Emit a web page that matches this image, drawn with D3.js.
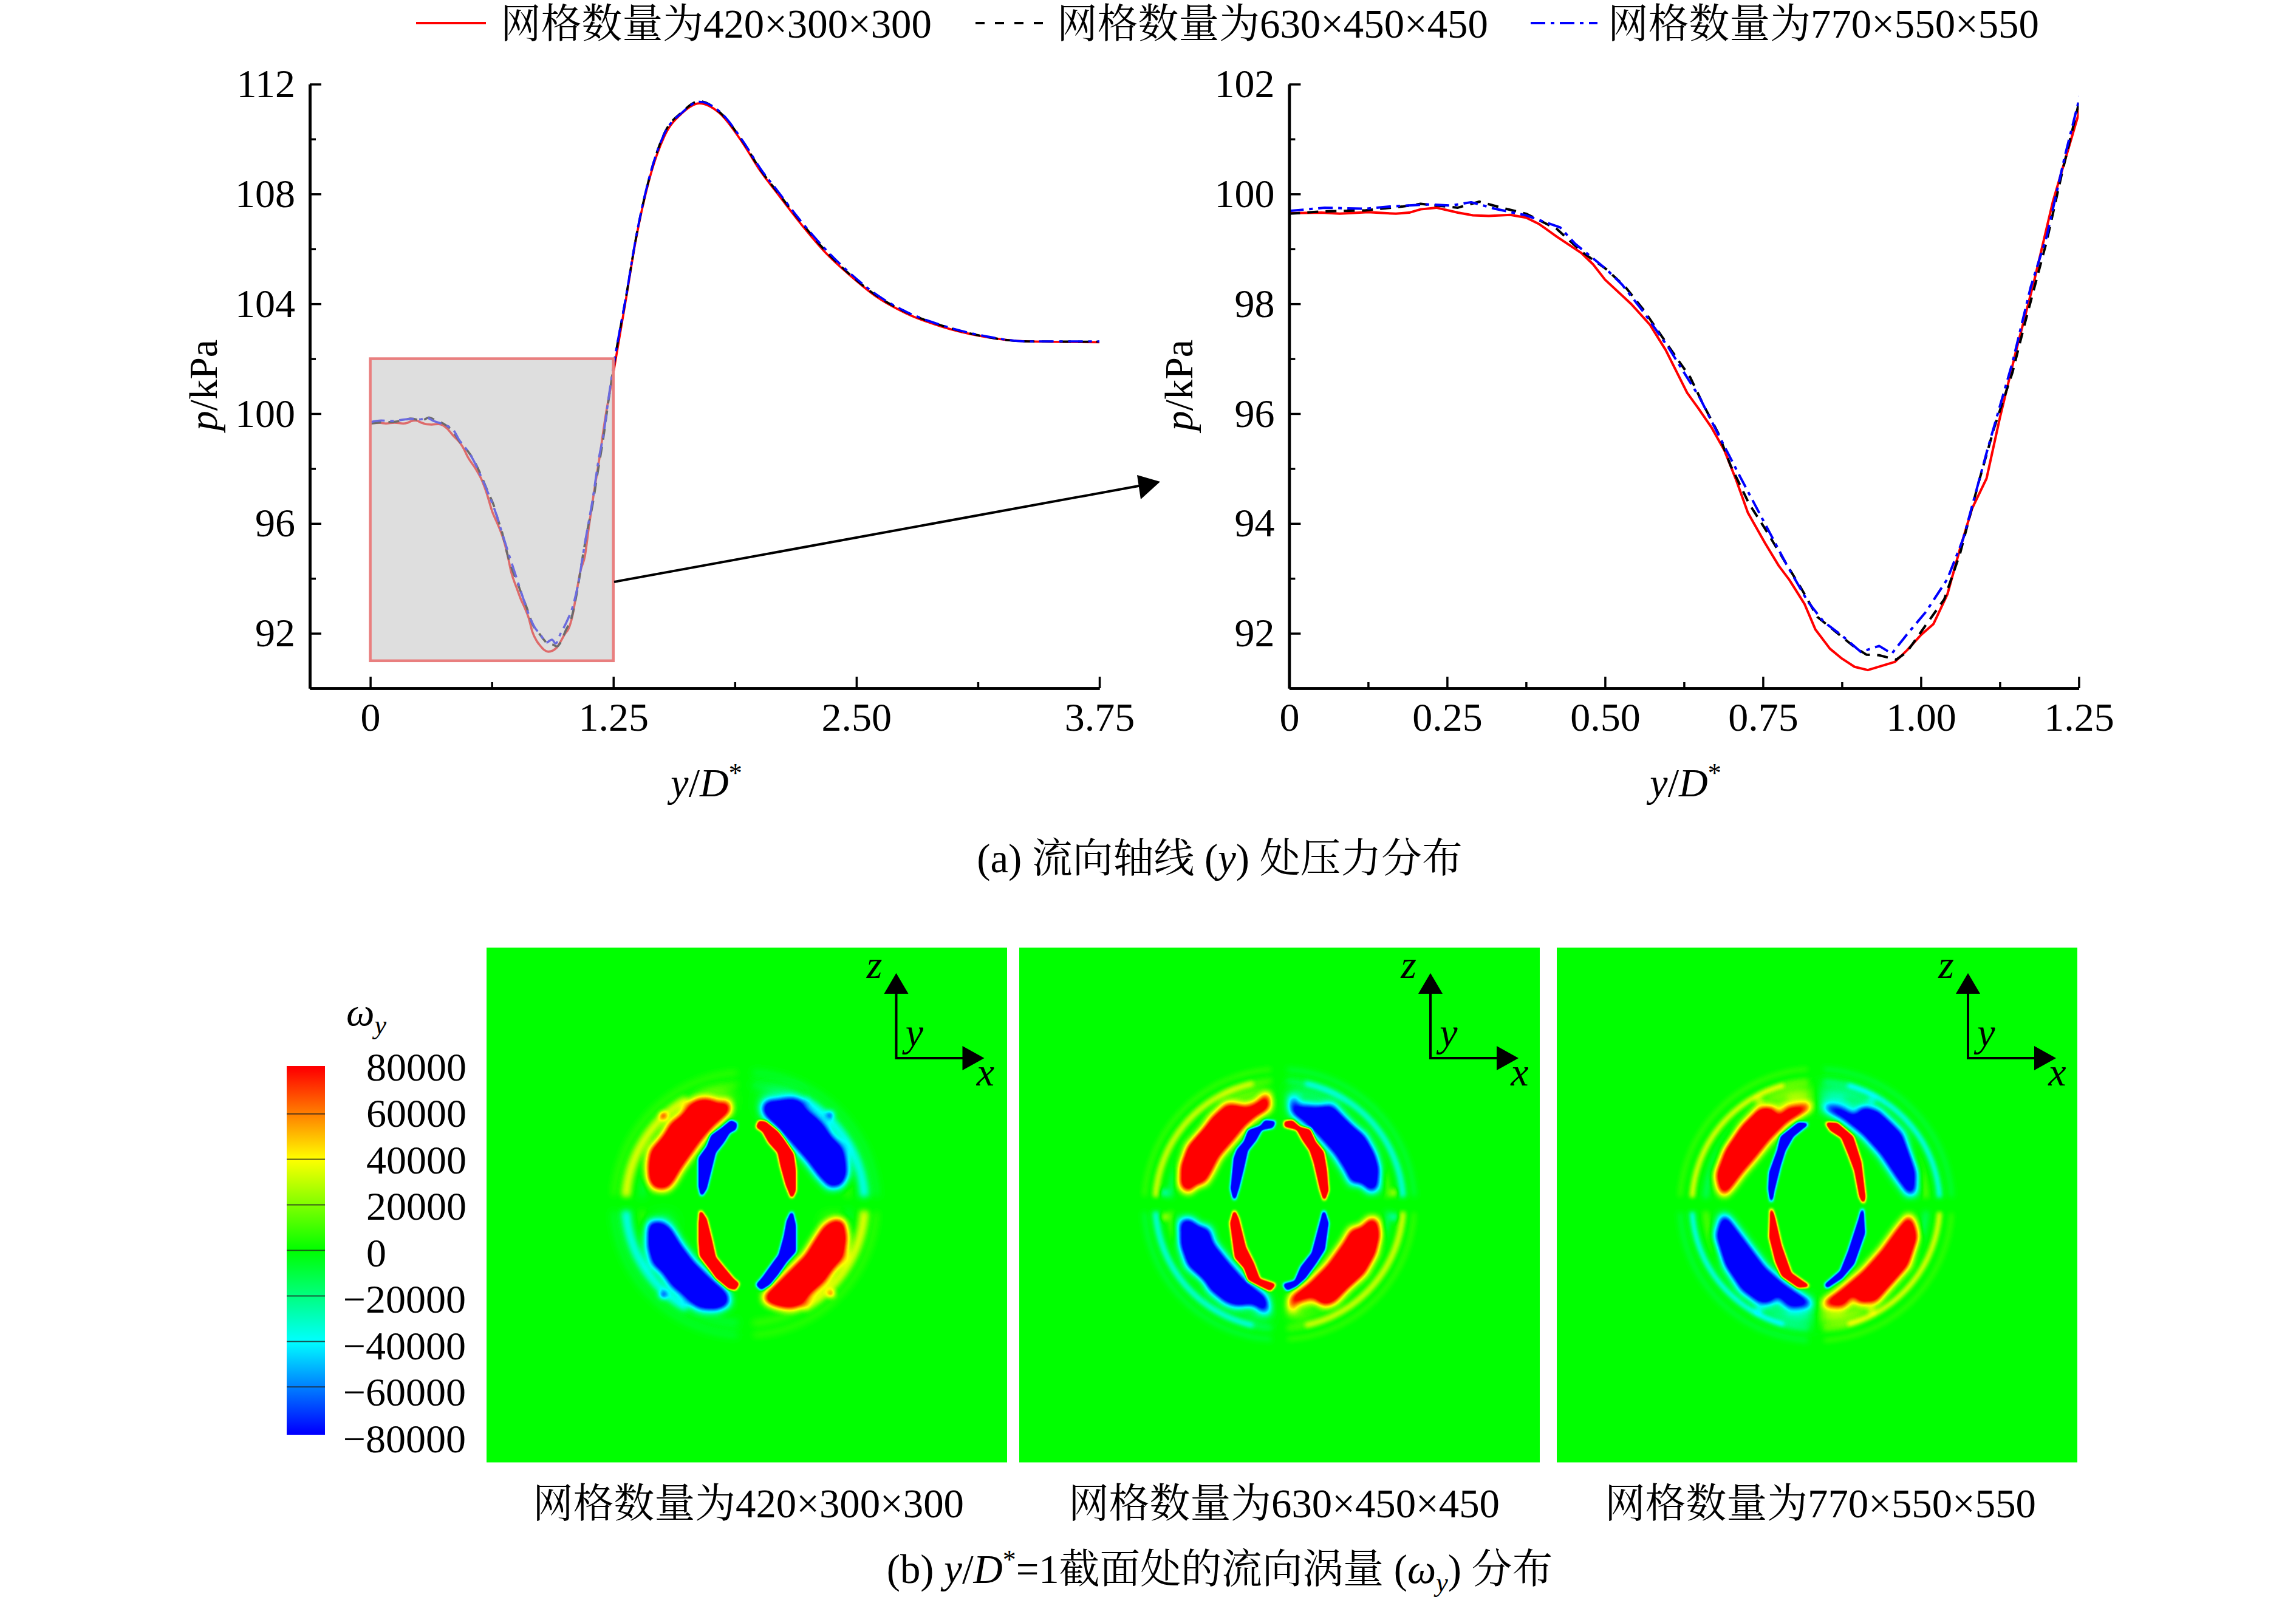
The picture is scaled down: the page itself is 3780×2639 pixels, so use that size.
<!DOCTYPE html>
<html><head><meta charset="utf-8">
<script src="https://cdn.jsdelivr.net/npm/d3@7"></script>
<style>
html,body{margin:0;padding:0;background:#fff}
text{font-family:"Liberation Serif","Noto Serif CJK SC","Noto Sans CJK SC",serif;font-size:66px;fill:#000}
text.cap{font-size:66.8px}
</style></head><body><svg id="c" width="3780" height="2639" xmlns="http://www.w3.org/2000/svg"></svg>
<script>
// ---------- pressure data ----------
const seriesNames=["网格数量为420×300×300","网格数量为630×450×450","网格数量为770×550×550"];
const tailX=[1.319,1.364,1.429,1.513,1.603,1.693,1.797,1.917,2.007,2.096,2.216,2.350,2.470,2.605,2.754,2.934,3.143,3.382,3.75];
const redX=[0,.051,.080,.125,.169,.190,.208,.233,.267,.291,.316,.350,.375,.396,.424,.463,.481,.500,.542,.571,.596,.630,.650,.669,.689,.708,.726,.753,.775,.792,.816,.833,.856,.875,.895,.916,.959,.978,1.001,1.020,1.042,1.062,1.081,1.104,1.125,1.150,1.179,1.209,1.25];
const redY=[99.65,99.66,99.64,99.67,99.64,99.66,99.72,99.75,99.66,99.61,99.60,99.62,99.57,99.45,99.22,98.92,98.72,98.44,97.99,97.62,97.16,96.38,96.06,95.74,95.33,94.78,94.20,93.65,93.23,92.97,92.53,92.07,91.72,91.54,91.39,91.33,91.48,91.69,91.98,92.17,92.71,93.54,94.27,94.82,95.92,97.11,98.40,99.86,101.47];
const redTailY=[104.34,106.26,108.37,110.11,110.94,111.30,110.94,109.84,108.83,108.00,106.90,105.80,105.02,104.25,103.66,103.18,102.82,102.63,102.60];
const blackX=[0,.051,.12,.179,.208,.267,.301,.336,.375,.424,.463,.502,.532,.561,.610,.635,.654,.679,.699,.728,.753,.782,.811,.836,.865,.895,.914,.934,.961,.978,1.003,1.037,1.062,1.091,1.116,1.145,1.165,1.199,1.224,1.25];
const blackY=[99.64,99.68,99.70,99.77,99.82,99.75,99.86,99.75,99.64,99.36,98.95,98.63,98.31,97.89,97.07,96.66,96.20,95.65,95.05,94.36,93.91,93.36,92.81,92.30,92.03,91.75,91.61,91.60,91.52,91.66,92.07,92.62,93.45,94.73,95.74,96.75,97.66,99.13,100.41,101.65];
const blackTailY=[104.40,106.30,108.42,110.22,110.98,111.38,110.98,109.90,108.88,108.05,106.97,105.86,105.05,104.29,103.70,103.22,102.83,102.63,102.62];
const blueX=[0,.056,.12,.159,.218,.257,.288,.326,.375,.429,.453,.502,.527,.561,.600,.650,.674,.713,.753,.787,.821,.846,.875,.905,.934,.954,.978,1.008,1.042,1.067,1.106,1.145,1.174,1.199,1.228,1.25];
const blueY=[99.69,99.75,99.73,99.77,99.81,99.79,99.85,99.73,99.61,99.39,99.09,98.63,98.35,97.85,97.21,96.29,95.74,94.87,94.00,93.26,92.58,92.21,91.96,91.66,91.77,91.63,91.98,92.39,92.99,93.72,95.37,96.93,98.31,99.22,100.69,101.70];
const blueTailY=[104.42,106.32,108.44,110.20,110.96,111.36,111.00,109.92,108.92,108.10,107.00,105.92,105.10,104.33,103.72,103.23,102.85,102.63,102.63];
const leftXTicks=[0,1.25,2.5,3.75], leftXLabels=["0","1.25","2.50","3.75"], leftXMinor=[.625,1.875,3.125];
const leftYTicks=[92,96,100,104,108,112], leftYMinor=[94,98,102,106,110];
const rightXTicks=[0,.25,.5,.75,1,1.25], rightXLabels=["0","0.25","0.50","0.75","1.00","1.25"], rightXMinor=[.125,.375,.625,.875,1.125];
const rightYTicks=[92,94,96,98,100,102], rightYMinor=[93,95,97,99,101];
// ---------- vorticity data ----------
const legendTicks=[80000,60000,40000,20000,0,-20000,-40000,-60000,-80000];
const jetStops=[-80000,-40000,0,40000,80000], jetColors=["#0000ff","#00ffff","#00ff00","#ffff00","#ff0000"];
const panelCaptions=seriesNames;
const quadrantSign=[1,-1,-1,1];
const fieldCentre=[[748,671],[771,671],[771,671]];
const ringCentre=[[740,665],[770,668],[765,670]];
const outerLobes=[
[[[470,170],[520,150],[570,155],[610,175],[655,165],[662,205],[620,245],[570,290],[520,350],[470,420],[420,490],[380,560],[350,590],[290,585],[265,540],[262,470],[275,400],[320,350],[350,310],[370,270],[430,225]],
 [[830,190],[845,165],[900,160],[960,150],[1010,155],[1040,200],[1090,240],[1130,280],[1160,330],[1220,390],[1235,450],[1240,520],[1215,570],[1160,580],[1110,530],[1050,450],[970,360],[900,280],[840,225]],
 [[270,760],[330,760],[370,790],[420,870],[480,950],[560,1030],[650,1110],[655,1160],[600,1185],[520,1180],[470,1150],[430,1110],[380,1070],[330,1000],[285,960],[262,880],[262,810]],
 [[1180,750],[1225,755],[1240,830],[1225,930],[1170,990],[1130,1050],[1060,1110],[1020,1165],[960,1180],[900,1170],[850,1150],[835,1125],[900,1060],[970,990],[1040,920],[1090,840],[1130,780]]],
[[[510,175],[560,180],[600,195],[650,180],[690,150],[710,120],[718,190],[660,225],[600,275],[540,350],[470,430],[430,510],[400,560],[360,565],[320,605],[285,575],[285,480],[320,380],[400,290],[440,235]],
 [[835,130],[850,190],[900,190],[950,195],[1030,180],[1070,220],[1130,280],[1190,330],[1240,420],[1260,490],[1250,590],[1220,600],[1175,555],[1130,560],[1100,500],[1050,420],[980,340],[910,270],[835,210]],
 [[285,750],[330,745],[370,780],[420,790],[440,860],[520,960],[600,1050],[700,1130],[710,1200],[640,1150],[560,1165],[510,1150],[430,1090],[400,1040],[320,970],[285,870]],
 [[1220,740],[1250,745],[1265,820],[1245,910],[1190,1010],[1100,1090],[1040,1150],[990,1165],[940,1120],[840,1150],[830,1205],[830,1130],[920,1060],[1010,970],[1090,860],[1130,790],[1170,790]]],
[[[490,190],[550,195],[580,240],[625,195],[740,180],[690,215],[620,260],[540,340],[460,440],[400,510],[340,590],[310,620],[290,590],[275,520],[320,400],[400,280]],
 [[805,185],[880,195],[960,235],[1000,190],[1070,205],[1130,260],[1190,320],[1255,510],[1250,610],[1225,615],[1170,540],[1090,420],[1000,320],[900,240]],
 [[305,725],[330,740],[420,860],[510,980],[600,1060],[740,1160],[640,1170],[570,1110],[540,1150],[490,1155],[400,1090],[320,970],[275,820]],
 [[1225,725],[1250,770],[1265,830],[1220,970],[1150,1050],[1060,1150],[980,1150],[950,1105],[900,1165],[805,1160],[900,1085],[1000,1000],[1090,900],[1170,790]]]
];
const innerLobes=[
[[[670,258],[695,270],[690,295],[660,310],[630,360],[590,410],[570,490],[545,590],[525,620],[515,580],[515,440],[555,385],[575,330],[625,295]],
 [[810,260],[840,262],[900,310],[930,350],[975,420],[985,500],[985,600],[970,630],[945,570],[920,480],[905,410],[860,360],[830,305],[800,285]],
 [[520,705],[545,740],[570,840],[590,930],[630,980],[680,1040],[705,1060],[690,1085],[660,1080],[600,1030],[565,980],[520,920],[515,850],[515,760]],
 [[970,710],[985,770],[985,900],[940,950],[900,1010],[860,1060],[820,1085],[800,1065],[830,1030],[880,960],[910,920],[935,830],[950,750]]],
[[[700,258],[745,262],[735,285],[680,295],[650,350],[610,400],[590,490],[565,590],[548,640],[535,590],[550,440],[565,400],[600,360],[620,305],[680,285]],
 [[800,262],[835,258],[870,290],[920,300],[945,360],[985,410],[1000,500],[1008,600],[992,642],[975,590],[945,460],[925,400],[890,350],[860,295],[800,280]],
 [[548,705],[565,740],[600,880],[640,960],[670,1040],[745,1065],[725,1090],[680,1070],[620,1040],[600,980],[555,930],[532,760]],
 [[990,705],[1008,760],[990,890],[945,960],[895,1030],[850,1070],[810,1088],[795,1065],[850,1050],[880,980],[935,910],[975,760]]],
[[[680,268],[720,272],[650,330],[610,400],[585,480],[555,600],[545,650],[535,590],[540,510],[580,400],[595,335],[640,300]],
 [[820,268],[870,270],[945,335],[985,460],[1005,630],[1000,655],[985,630],[960,500],[930,420],[895,335],[840,300]],
 [[545,695],[560,740],[590,870],[640,1010],[725,1070],[680,1075],[600,1020],[570,950],[540,830]],
 [[995,695],[1003,810],[950,960],[890,1030],[820,1075],[815,1065],[890,1000],[930,900],[985,730]]]
];
const halos=[
[[[500,130],[600,110],[670,110],[670,200],[560,190]],[[820,200],[830,110],[950,110],[1020,140],[900,190]],[[300,730],[370,730],[380,790],[300,780]],[[1130,730],[1220,730],[1220,780],[1130,790]]],
[[[480,160],[560,130],[700,100],[715,200],[560,210]],[[830,200],[830,100],[960,130],[1060,170],[950,210]],[[440,1110],[560,1170],[710,1240],[700,1130],[560,1100]],[[1100,1110],[980,1170],[840,1240],[840,1130],[980,1100]]],
[[[480,160],[620,100],[745,90],[745,190],[560,210]],[[790,180],[790,90],[920,100],[1060,160],[950,220]],[[480,1170],[620,1250],[745,1260],[745,1150],[560,1130]],[[1060,1170],[920,1250],[790,1260],[790,1150],[960,1130]]]
];
const haloLevels=[.2,.24,.26];
const ringRadii=[[590,650],[612,668],[612,672]];
const ringLevels=[[.26,.08],[.24,.09],[.27,.1]];
const ringWidths=[[45,24],[26,18],[20,16]];
const ringSpans=[1.0,1.3,1.25];
const ringBlur=[5,3.5,3];
const innerRingRadii=[510,540,545];
const innerRingLevels=[.08,.11,.12];
const spots=[[[335,230],[1160,225],[335,1115],[1165,1110]],[[205,610],[1335,610],[205,730],[1335,730]],[[485,155],[1040,155],[485,1190],[1040,1190]]];
const spotSign=[[1,-1,-1,1],[-1,1,1,-1],[1,-1,-1,1]];
const spotLevels=[.55,.25,.25];

// ---------- page ----------
const svg=d3.select("#c");
svg.append("rect").attr("width",3780).attr("height",2639).attr("fill","#fff");
const defs=svg.append("defs");
function merge(x,tx){return x.concat(tx)}
const series=[
 {x:merge(redX,tailX),y:merge(redY,redTailY),color:"#ff0000",dash:null,leg:null},
 {x:merge(blackX,tailX),y:merge(blackY,blackTailY),color:"#000000",dash:"18 12",leg:"15 17"},
 {x:merge(blueX,tailX),y:merge(blueY,blueTailY),color:"#0000ff",dash:"24 9 6 9",leg:"24 9 6 9"}
];
const AX=3.5;
function chart(o){
 const g=svg.append("g");
 const xs=d3.scaleLinear().domain(o.xd).range(o.xr);
 const ys=d3.scaleLinear().domain(o.yd).range(o.yr);
 const cid="clip"+o.id;
 defs.append("clipPath").attr("id",cid).append("rect").attr("x",o.xr[0]).attr("y",o.yr[1]-5).attr("width",o.xr[1]-o.xr[0]).attr("height",o.yr[0]-o.yr[1]+5);
 const line=d3.line().x(d=>xs(d[0])).y(d=>ys(d[1])).curve(o.curve);
 const lg=g.append("g").attr("clip-path",`url(#${cid})`);
 series.forEach(s=>{
  const pts=s.x.map((v,i)=>[v,s.y[i]]);
  lg.append("path").attr("d",line(pts)).attr("fill","none").attr("stroke",s.color).attr("stroke-width",o.lw).attr("stroke-dasharray",s.dash).attr("stroke-linejoin","round");
 });
 if(o.box){
  g.append("rect").attr("x",xs(o.box[0])).attr("width",xs(o.box[1])-xs(o.box[0])).attr("y",ys(o.box[3])).attr("height",ys(o.box[2])-ys(o.box[3]))
   .attr("fill","rgb(195,195,195)").attr("fill-opacity",.55).attr("stroke","#e97f7f").attr("stroke-width",4.5);
 }
 const sty=a=>{a.selectAll("path,line").attr("stroke","#000").attr("stroke-width",AX);a.attr("font-family",null).attr("font-size",null);a.select(".domain").attr("stroke-width",4.5)};
 const bx=d3.axisBottom(xs).tickValues(o.xt).tickFormat((d,i)=>o.xl[i]).tickSizeInner(-19).tickSizeOuter(0).tickPadding(23);
 const bm=d3.axisBottom(xs).tickValues(o.xm).tickFormat("").tickSizeInner(-10).tickSizeOuter(0);
 const ly=d3.axisLeft(ys).tickValues(o.yt).tickFormat(d=>d).tickSizeInner(-19).tickSizeOuter(0).tickPadding(o.ypad);
 const lm=d3.axisLeft(ys).tickValues(o.ym).tickFormat("").tickSizeInner(-10).tickSizeOuter(0);
 [[bm,`translate(0,${o.yr[0]})`],[bx,`translate(0,${o.yr[0]})`],[lm,`translate(${o.xr[0]},0)`],[ly,`translate(${o.xr[0]},0)`]].forEach(([a,t])=>{
  g.append("g").attr("transform",t).call(a).call(sty);
 });
 const xt=g.append("text").attr("x",o.xtc).attr("y",1311).attr("text-anchor","middle");
 xt.append("tspan").attr("font-style","italic").text("y");xt.append("tspan").text("/");xt.append("tspan").attr("font-style","italic").text("D");
 xt.append("tspan").attr("dy",-24).style("font-size","44px").text("*");
 const yt=g.append("text").attr("transform",`translate(${o.ytx},634) rotate(-90)`).attr("text-anchor","middle");
 yt.append("tspan").attr("font-style","italic").text("p");yt.append("tspan").text("/kPa");
}
chart({id:"L",xd:[-0.3112,3.75],xr:[510,1810],yd:[90,112],yr:[1133,138.5],lw:3.6,curve:d3.curveMonotoneX,
 xt:leftXTicks,xl:leftXLabels,xm:leftXMinor,yt:leftYTicks,ym:leftYMinor,ypad:24,box:[0,1.25,91,102],xtc:1163,ytx:357});
chart({id:"R",xd:[0,1.25],xr:[2122.4,3422.4],yd:[91,102],yr:[1133,138.5],lw:4,curve:d3.curveLinear,
 xt:rightXTicks,xl:rightXLabels,xm:rightXMinor,yt:rightYTicks,ym:rightYMinor,ypad:24,xtc:2775,ytx:1963});

// zoom arrow
svg.append("line").attr("x1",1011).attr("y1",958).attr("x2",1880).attr("y2",799).attr("stroke","#000").attr("stroke-width",4);
svg.append("path").attr("d","M1910,793 L1872,782 L1878,822 Z").attr("fill","#000");

// legend
const legX=[[685,800,824],[1606,1722,1740],[2520,2630,2647]];
series.forEach((s,i)=>{
 svg.append("line").attr("x1",legX[i][0]).attr("x2",legX[i][1]).attr("y1",38).attr("y2",38).attr("stroke",s.color).attr("stroke-width",4).attr("stroke-dasharray",s.leg);
 svg.append("text").attr("class","cap").attr("x",legX[i][2]).attr("y",62).text(seriesNames[i]);
});
const ca=svg.append("text").attr("class","cap").attr("x",2008).attr("y",1436).attr("text-anchor","middle");
ca.append("tspan").text("(a) 流向轴线 (");ca.append("tspan").attr("font-style","italic").text("y");ca.append("tspan").text(") 处压力分布");

// ---------- colour bar ----------
const jet=d3.scaleLinear().domain(jetStops).range(jetColors).interpolate(d3.interpolateRgb).clamp(true);
const barScale=d3.scaleLinear().domain([-81000,81000]).range([2362,1755]);
const labelScale=d3.scaleLinear().domain([-80000,80000]).range([2369,1757]);
const grad=defs.append("linearGradient").attr("id","jet").attr("x1",0).attr("x2",0).attr("y1",1).attr("y2",0);
jetStops.forEach(v=>grad.append("stop").attr("offset",(v-barScale.domain()[0])/(barScale.domain()[1]-barScale.domain()[0])).attr("stop-color",jet(v)));
svg.append("rect").attr("x",472).attr("width",63).attr("y",barScale(81000)).attr("height",barScale(-81000)-barScale(81000)).attr("fill","url(#jet)");
svg.selectAll(".bt").data(legendTicks.filter(v=>Math.abs(v)<80000)).join("line").attr("x1",472).attr("x2",535)
 .attr("y1",barScale).attr("y2",barScale).attr("stroke","#222").attr("stroke-opacity",.75).attr("stroke-width",2);
svg.selectAll(".bl").data(legendTicks).join("text").attr("x",d=>d<0?767:603).attr("text-anchor",d=>d<0?"end":"start")
 .attr("y",labelScale).attr("dy",".33em").text(d=>d<0?"\u2212"+Math.abs(d):d);
const om=svg.append("text").attr("x",570).attr("y",1688);
om.append("tspan").attr("font-style","italic").text("ω");
om.append("tspan").attr("font-style","italic").attr("dy",14).style("font-size","44px").text("y");

// ---------- vorticity panels ----------
const panelX=[801,1678,2563], panelW=857, panelTop=1560, panelH=847.5;
const lut=d3.range(256).map(g=>{const c=d3.rgb(jet((g-128)/127*120000));return [c.r,c.g,c.b]});
panelX.forEach((px,pi)=>{
 const w=857,h=848;
 const cv=document.createElement("canvas");cv.width=w;cv.height=h;
 const ctx=cv.getContext("2d",{willReadFrequently:true});
 const fx=d3.scaleLinear().domain([fieldCentre[pi][0]-1285.5,fieldCentre[pi][0]+1285.5]).range([0,w]);
 const fz=d3.scaleLinear().domain([fieldCentre[pi][1]-1272,fieldCentre[pi][1]+1272]).range([0,h]);
 const tone=(s,a)=>s*a>0?`rgba(255,255,255,${Math.abs(a)})`:`rgba(0,0,0,${Math.abs(a)})`;
 ctx.fillStyle="rgb(128,128,128)";ctx.fillRect(0,0,w,h);
 const poly=(p,sign,a,grow)=>{ctx.beginPath();p.forEach((q,i)=>{const X=fx(q[0]),Y=fz(q[1]);i?ctx.lineTo(X,Y):ctx.moveTo(X,Y)});ctx.closePath();ctx.fillStyle=tone(sign,a);ctx.fill();
   if(grow){ctx.strokeStyle=tone(sign,a);ctx.lineWidth=grow;ctx.lineJoin="round";ctx.stroke()}};
 const rc=ringCentre[pi];
 const G=.06, P=Math.PI;
 const fullArcs=[[P+G,1.5*P-G],[1.5*P+G,2*P-G],[.5*P+G,P-G],[G,.5*P-G]];
 const s=ringSpans[pi];
 const sideArcs=[[P+G,P+G+s],[2*P-G-s,2*P-G],[P-G-s,P-G],[G,G+s]];
 ctx.lineCap="butt";
 const ring=(r,lev,wd,arcs)=>arcs.forEach((qa,q)=>{
   ctx.beginPath();ctx.arc(fx(rc[0]),fz(rc[1]),fx(rc[0]+r)-fx(rc[0]),qa[0],qa[1]);
   ctx.strokeStyle=tone(quadrantSign[q],lev);ctx.lineWidth=wd/3;ctx.stroke();});
 ctx.filter=`blur(${ringBlur[pi]+1}px)`;
 ring(ringRadii[pi][1],ringLevels[pi][1],ringWidths[pi][1],fullArcs);
 ring(ringRadii[pi][0],ringLevels[pi][1],30,fullArcs);
 ring(innerRingRadii[pi],-innerRingLevels[pi],26,sideArcs);
 ctx.filter=`blur(${ringBlur[pi]}px)`;
 ring(ringRadii[pi][0],ringLevels[pi][0],ringWidths[pi][0],sideArcs);
 ctx.filter="blur(11px)";
 halos[pi].forEach((p,q)=>poly(p,quadrantSign[q],haloLevels[pi]));
 ctx.filter="blur(4px)";
 spots[pi].forEach((sp,i)=>{ctx.beginPath();ctx.arc(fx(sp[0]),fz(sp[1]),6,0,2*Math.PI);ctx.fillStyle=tone(spotSign[pi][i],spotLevels[pi]);ctx.fill()});
 ctx.filter="blur(7px)";
 outerLobes[pi].forEach((p,q)=>poly(p,quadrantSign[q],1,3));
 ctx.filter="blur(2.8px)";
 innerLobes[pi].forEach((p,q)=>poly(p,-quadrantSign[q],1,3));
 ctx.filter="none";
 const im=ctx.getImageData(0,0,w,h),dd=im.data;
 for(let i=0;i<dd.length;i+=4){const c=lut[dd[i]];dd[i]=c[0];dd[i+1]=c[1];dd[i+2]=c[2];dd[i+3]=255}
 ctx.putImageData(im,0,0);
 svg.append("image").attr("x",px).attr("y",panelTop).attr("width",panelW).attr("height",panelH).attr("preserveAspectRatio","none").attr("href",cv.toDataURL("image/png"));
 const tx=px+(pi==0?674.5:677), ty=1742;
 const tg=svg.append("g");
 tg.append("path").attr("d",`M${tx},${ty-110} V${ty} H${tx+112}`).attr("fill","none").attr("stroke","#000").attr("stroke-width",4);
 tg.append("path").attr("d",`M${tx},${ty-140} l-20,34 h40 Z`).attr("fill","#000");
 tg.append("path").attr("d",`M${tx+145},${ty} l-36,-20 v40 Z`).attr("fill","#000");
 [["z",tx-36,1610],["y",tx+30,1722],["x",tx+147,1787]].forEach(t=>{
  tg.append("text").attr("x",t[1]).attr("y",t[2]).attr("text-anchor","middle").attr("font-style","italic").text(t[0]);
 });
 svg.append("text").attr("class","cap").attr("x",[1232,2114,2997][pi]).attr("y",2498).attr("text-anchor","middle").text(panelCaptions[pi]);
});
const cb=svg.append("text").attr("class","cap").attr("x",2008).attr("y",2606).attr("text-anchor","middle");
cb.append("tspan").text("(b) ");cb.append("tspan").attr("font-style","italic").text("y");cb.append("tspan").text("/");cb.append("tspan").attr("font-style","italic").text("D");
cb.append("tspan").attr("dy",-24).style("font-size","44px").text("*");
cb.append("tspan").attr("dy",24).text("=1截面处的流向涡量 (");
cb.append("tspan").attr("font-style","italic").text("ω");
cb.append("tspan").attr("font-style","italic").attr("dy",14).style("font-size","44px").text("y");
cb.append("tspan").attr("dy",-14).text(") 分布");
</script></body></html>
